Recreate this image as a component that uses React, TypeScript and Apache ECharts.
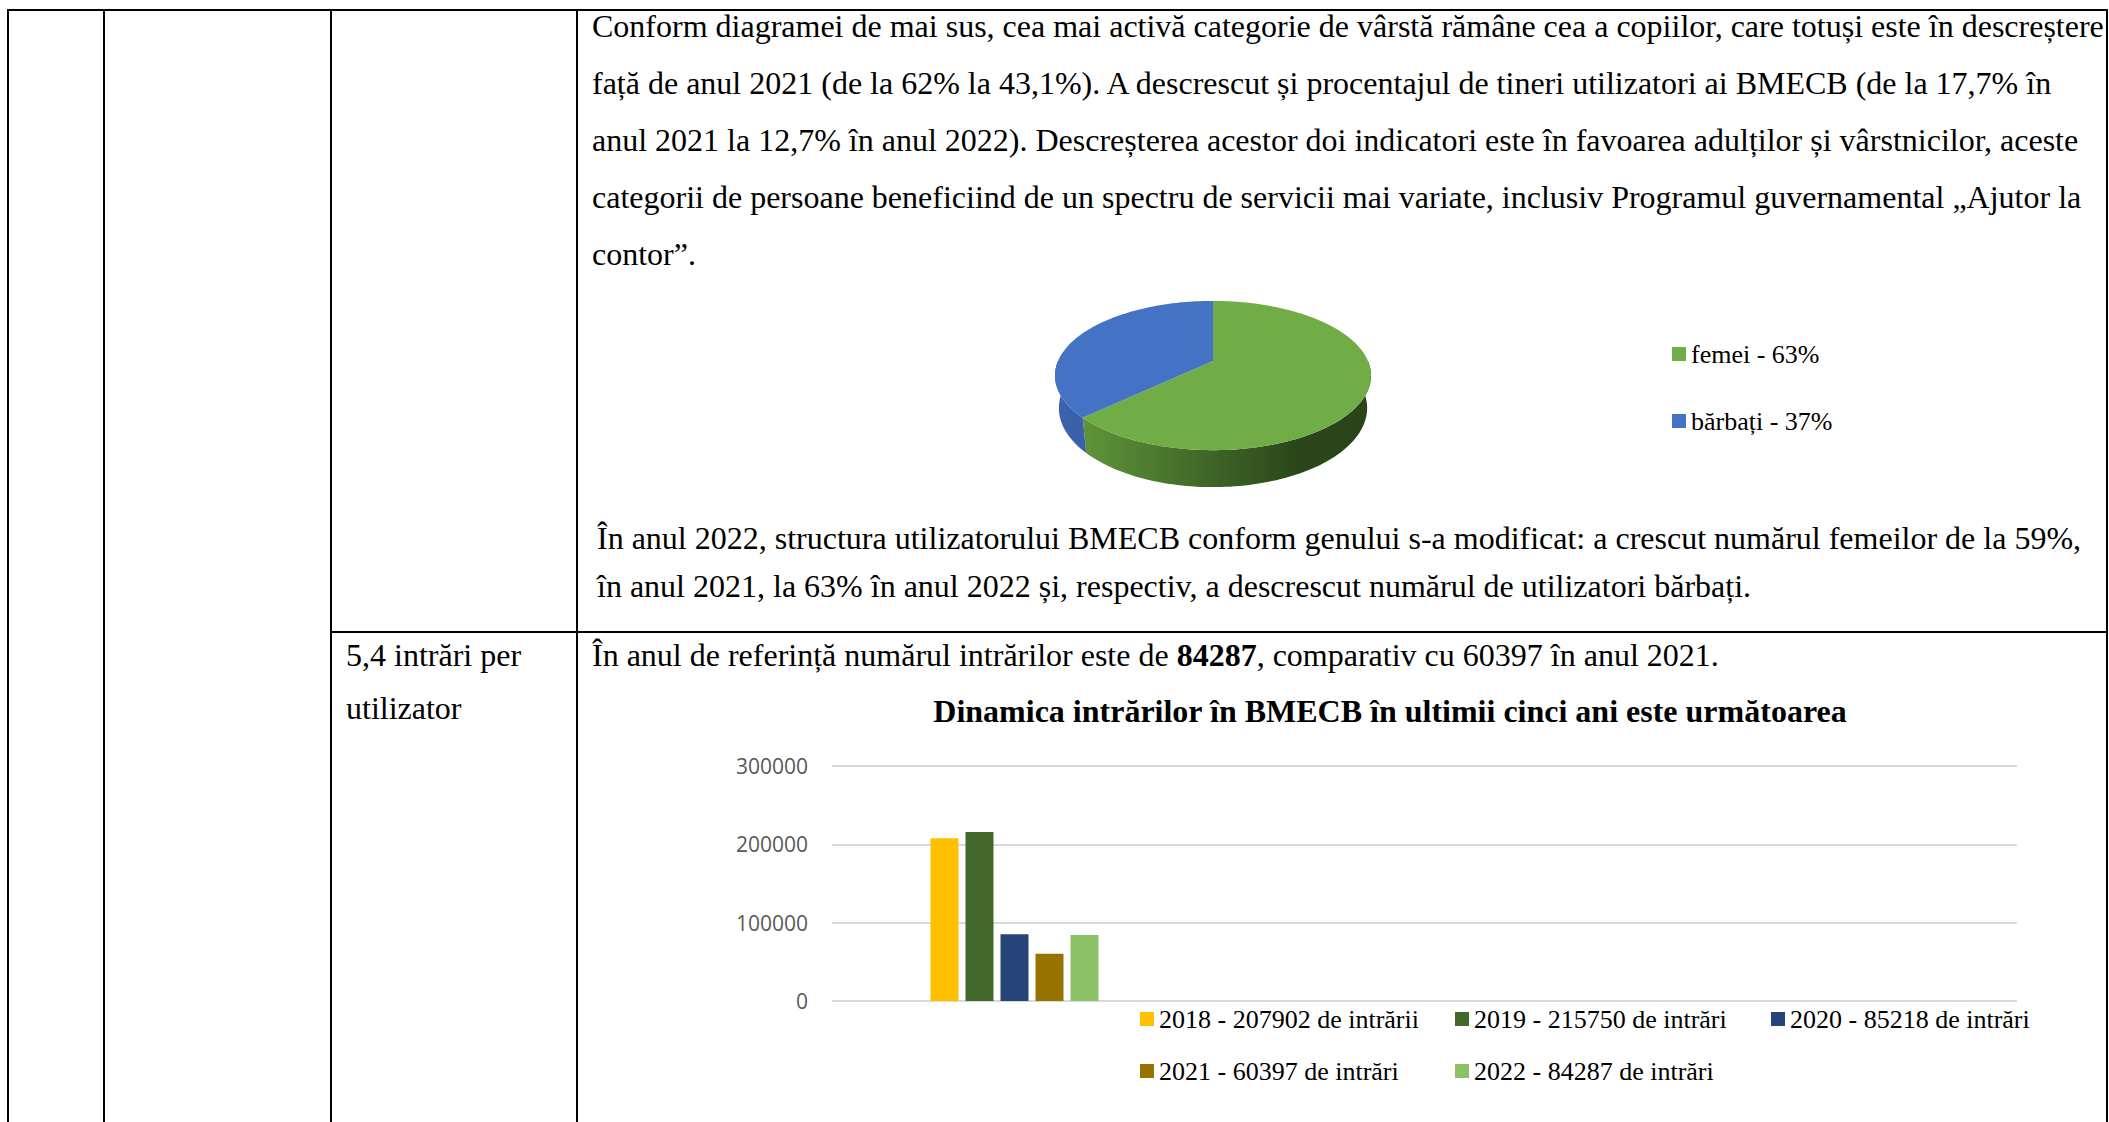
import React, { useEffect, useRef } from 'react';
import * as echarts from 'echarts';

// ---------- texts ----------
const paragraph1 = [
  'Conform diagramei de mai sus, cea mai activă categorie de vârstă rămâne cea a copiilor, care totuși este în descreștere',
  'față de anul 2021 (de la 62% la 43,1%). A descrescut și procentajul de tineri utilizatori ai BMECB (de la 17,7% în',
  'anul 2021 la 12,7% în anul 2022). Descreșterea acestor doi indicatori este în favoarea adulților și vârstnicilor, aceste',
  'categorii de persoane beneficiind de un spectru de servicii mai variate, inclusiv Programul guvernamental „Ajutor la',
  'contor”.',
];
const paragraph2 = [
  'În anul 2022, structura utilizatorului BMECB conform genului s-a modificat: a crescut numărul femeilor de la 59%,',
  'în anul 2021, la 63% în anul 2022 și, respectiv, a descrescut numărul de utilizatori bărbați.',
];
const indicatorLines = ['5,4 intrări per', 'utilizator'];
const entriesBefore = 'În anul de referință numărul intrărilor este de ';
const entriesBold = '84287';
const entriesAfter = ', comparativ cu 60397 în anul 2021.';

// ---------- pie data ----------
const pieNames = ['femei - 63%', 'bărbați - 37%'];
const pieValues = [63, 37];
const pieColors = ['#70AD47', '#4472C4'];

// ---------- bar data ----------
const barTitle = 'Dinamica intrărilor în BMECB în ultimii cinci ani este următoarea';
const barCategory = ['2018-2022'];
const barNames = [
  '2018 - 207902 de intrării',
  '2019 - 215750 de intrări',
  '2020 - 85218 de intrări',
  '2021 - 60397 de intrări',
  '2022 - 84287 de intrări',
];
const barValues = [207902, 215750, 85218, 60397, 84287];
const barColors = ['#FFC000', '#43682B', '#264478', '#997300', '#8CC168'];
const yTicks = [0, 100000, 200000, 300000];

const SERIF = 'Liberation Serif, Times New Roman, serif';

export default function App() {
  const ref = useRef<HTMLDivElement>(null);

  useEffect(() => {
    if (!ref.current) return;
    const chart = echarts.init(ref.current, null, { renderer: 'svg' });

    // perspective view of the 3D pie (camera distance 1, tilt phi)
    const P = { cx: 1213, cy: 361, R: 0.2196, F: 705.8, phi: (27.6 * Math.PI) / 180, h: 0.0525 };
    const sinP = Math.sin(P.phi);
    const cosP = Math.cos(P.phi);
    const proj = (theta: number, Y: number) => {
      const X = P.R * Math.sin(theta);
      const Z = -P.R * Math.cos(theta);
      const d = 1 - Y * sinP - Z * cosP;
      return [P.cx + (P.F * X) / d, P.cy - (P.F * (Y * cosP - Z * sinP)) / d];
    };
    const arc = (a0: number, a1: number, Y: number) => {
      const n = Math.max(2, Math.ceil((a1 - a0) / (Math.PI / 120)));
      const pts: number[][] = [];
      for (let k = 0; k <= n; k++) pts.push(proj(a0 + ((a1 - a0) * k) / n, Y));
      return pts;
    };
    const total = pieValues.reduce((a, b) => a + b, 0);
    const sideFills = [
      new echarts.graphic.LinearGradient(0, 0, 1, 0, [
        { offset: 0, color: '#5f9539' },
        { offset: 0.45, color: '#3e6427' },
        { offset: 0.75, color: '#2b461a' },
        { offset: 1, color: '#2a4419' },
      ]),
      new echarts.graphic.LinearGradient(0, 0, 1, 0, [
        { offset: 0, color: '#3c64ad' },
        { offset: 1, color: '#3a60a6' },
      ]),
    ];

    const makeRender = (i: number) => (params: any, api: any) => {
      const before = pieValues.slice(0, i).reduce((a, b) => a + b, 0);
      const v = api.value(0);
      const a0 = (before / total) * Math.PI * 2;
      const a1 = ((before + v) / total) * Math.PI * 2;
      const children: any[] = [];
      const s0 = Math.max(a0, Math.PI / 2);
      const s1 = Math.min(a1, (Math.PI * 3) / 2);
      if (s1 > s0) {
        const top = arc(s0, s1, 0);
        const bot = arc(s0, s1, -P.h).reverse();
        children.push({ type: 'polygon', shape: { points: top.concat(bot) }, style: { fill: sideFills[i] } });
      }
      children.push({
        type: 'polygon',
        shape: { points: [[P.cx, P.cy]].concat(arc(a0, a1, 0)) },
        style: { fill: pieColors[i] },
      });
      return { type: 'group', children };
    };

    const txt = (text: string, x: number, y: number, extra: any = {}) => ({
      type: 'text',
      style: {
        text,
        x,
        y,
        fontSize: 32,
        fontFamily: SERIF,
        fill: '#000',
        align: 'left',
        verticalAlign: 'middle',
        ...extra,
      },
    });

    const line = (x1: number, y1: number, x2: number, y2: number) => ({
      type: 'line',
      shape: { x1, y1, x2, y2 },
      style: { stroke: '#000', lineWidth: 2 },
    });

    const graphics: any[] = [
      line(8, 10, 2108, 10),
      line(8, 9, 8, 1122),
      line(104, 9, 104, 1122),
      line(331, 9, 331, 1122),
      line(577, 9, 577, 1122),
      line(2107, 9, 2107, 1122),
      line(331, 632, 2108, 632),
    ];
    paragraph1.forEach((t, k) => graphics.push(txt(t, 592, 26 + k * 57)));
    paragraph2.forEach((t, k) => graphics.push(txt(t, 597, 538 + k * 48)));
    indicatorLines.forEach((t, k) => graphics.push(txt(t, 346, 655 + k * 53)));
    graphics.push({
      type: 'text',
      style: {
        text: '{a|' + entriesBefore + '}{b|' + entriesBold + '}{a|' + entriesAfter + '}',
        x: 592,
        y: 655,
        verticalAlign: 'middle',
        rich: {
          a: { fontSize: 32, fontFamily: SERIF, fill: '#000' } as any,
          b: { fontSize: 32, fontFamily: SERIF, fontWeight: 'bold', fill: '#000' } as any,
        },
      },
    });
    graphics.push(txt(barTitle, 1390, 711, { fontWeight: 'bold', align: 'center' }));

    const legendText = { fontFamily: SERIF, fontSize: 26, color: '#000', lineHeight: 28, fontWeight: 'normal' };
    const legendItems = (names: string[]) => names.map((name) => ({ name, textStyle: { ...legendText } }));
    const legendBase = {
      orient: 'vertical',
      padding: 0,
      itemWidth: 14,
      itemHeight: 14,
      icon: 'rect',
      textStyle: { ...legendText },
      selectedMode: false,
    };

    const option: any = {
      animation: false,
      backgroundColor: '#fff',
      textStyle: { fontFamily: SERIF },
      graphic: graphics,
      legend: [
        { ...legendBase, data: legendItems(pieNames), left: 1672, top: 340, itemGap: 39 },
        { ...legendBase, data: legendItems([barNames[0], barNames[3]]), left: 1140, top: 1005, itemGap: 24 },
        { ...legendBase, data: legendItems([barNames[1], barNames[4]]), left: 1455, top: 1005, itemGap: 24 },
        { ...legendBase, data: legendItems([barNames[2]]), left: 1771, top: 1005, itemGap: 24 },
      ],
      grid: [
        { left: 832, right: 92, top: 766, bottom: 121 },
        { left: 832, width: 365, top: 766, bottom: 121 },
      ],
      xAxis: [
        { gridIndex: 0, type: 'category', data: barCategory, show: false },
        { gridIndex: 1, type: 'category', data: barCategory, show: false },
      ],
      yAxis: [
        {
          gridIndex: 0,
          type: 'value',
          min: yTicks[0],
          max: yTicks[yTicks.length - 1],
          interval: yTicks[1] - yTicks[0],
          axisLine: { show: false },
          axisTick: { show: false },
          axisLabel: {
            color: '#595959',
            fontSize: 21,
            fontFamily: 'Open Sans',
            margin: 24,
            formatter: (v: number) => String(v),
          },
          splitLine: { lineStyle: { color: '#d9d9d9', width: 2 } },
        },
        {
          gridIndex: 1,
          type: 'value',
          min: yTicks[0],
          max: yTicks[yTicks.length - 1],
          show: false,
          splitLine: { show: false },
        },
      ],
      series: [
        ...pieNames.map((name, i) => ({
          type: 'custom',
          name,
          coordinateSystem: 'none',
          itemStyle: { color: pieColors[i] },
          data: [pieValues[i]],
          renderItem: makeRender(i),
          silent: true,
        })),
        ...barNames.map((name, i) => ({
          type: 'bar',
          name,
          xAxisIndex: 1,
          yAxisIndex: 1,
          data: [barValues[i]],
          barWidth: 28,
          barGap: '25%',
          itemStyle: { color: barColors[i] },
          silent: true,
        })),
      ],
    };

    chart.setOption(option);
    return () => chart.dispose();
  }, []);

  return (
    <div
      ref={ref}
      style={{ position: 'fixed', left: 0, top: 0, width: 2109, height: 1122, background: '#fff' }}
    />
  );
}
